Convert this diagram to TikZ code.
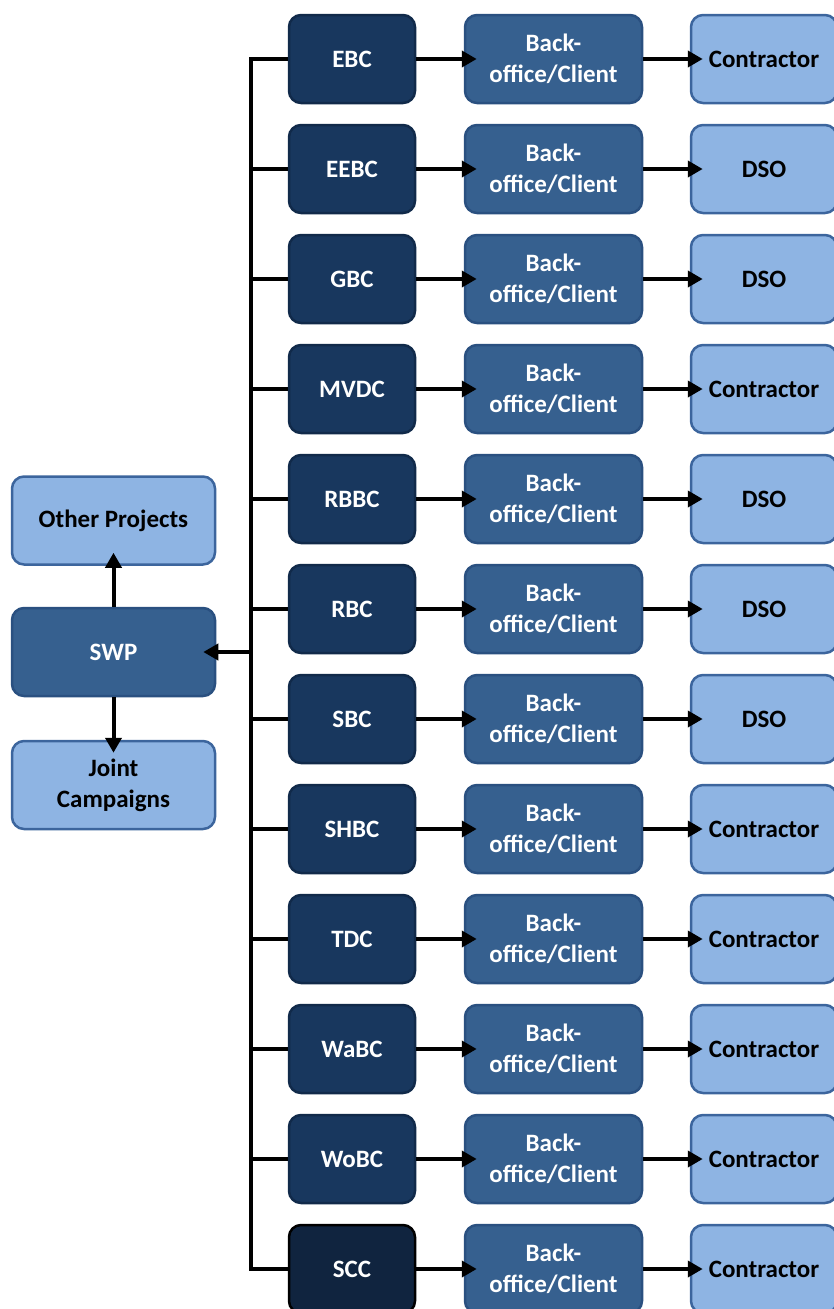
\documentclass[tikz,border=0pt]{standalone}
\usepackage{fontspec}
\setmainfont{Carlito}
\usetikzlibrary{positioning,arrows.meta}
\definecolor{navy}{HTML}{18375E}
\definecolor{navyline}{HTML}{112A4A}
\definecolor{navydeep}{HTML}{10243F}
\definecolor{steel}{HTML}{36608F}
\definecolor{steelline}{HTML}{2A5080}
\definecolor{sky}{HTML}{8EB4E3}
\definecolor{skyline}{HTML}{3C659D}

\begin{document}
\begin{tikzpicture}[
    x=1pt, y=-1pt,
    box/.style={draw, line width=2.5pt, rounded corners=12pt, minimum height=88pt, inner sep=0pt, align=center, font=\fontsize{25}{31}\selectfont\bfseries},
    org/.style={box, fill=navy, draw=navyline, text=white, minimum width=126pt},
    orglast/.style={org, fill=navydeep, draw=black},
    office/.style={box, fill=steel, draw=steelline, text=white, minimum width=177pt},
    ext/.style={box, fill=sky, draw=skyline, text=black, minimum width=146pt},
    arr/.style={-{Triangle[length=15pt,width=16pt]}, line width=4pt, shorten >=-13pt},
    lnk/.style={line width=4pt}
]
    \useasboundingbox (0,0) rectangle (834,1309);

    % --- Left block ---
    \node[box, fill=steel, draw=steelline, text=white, minimum width=203pt] (swp) at (113.5,652) {SWP};
    \node[box, fill=sky, draw=skyline, minimum width=203pt] (other) at (113.5,520.5) {Other Projects};
    \node[box, fill=sky, draw=skyline, minimum width=203pt] (joint) at (113.5,785) {Joint\\Campaigns};
    \draw[arr] (swp) -- (other);
    \draw[arr] (swp) -- (joint);

    % --- Councils ---
    \foreach \name/\ext/\sty [count=\i from 0] in {EBC/Contractor/org, EEBC/DSO/org, GBC/DSO/org, MVDC/Contractor/org, RBBC/DSO/org, RBC/DSO/org, SBC/DSO/org, SHBC/Contractor/org, TDC/Contractor/org, WaBC/Contractor/org, WoBC/Contractor/org, SCC/Contractor/orglast} {
        \node[\sty] (org\i) at (352,59+110*\i) {\name};
        \node[office] (off\i) at (553.5,59+110*\i) {Back-\\office/Client};
        \node[ext] (ext\i) at (764,59+110*\i) {\ext};
        \draw[arr] (org\i) -- (off\i);
        \draw[arr] (off\i) -- (ext\i);
    }

    % --- Trunk ---
    \coordinate (top) at (251,59);
    \coordinate (bot) at (251,1269);
    \draw[lnk] (org0.west) -- (top) -- (bot) -- (org11.west);
    \foreach \i in {1,...,10}
        \draw[lnk] (org\i.west) -- (org\i.west -| top);
    \draw[arr] (swp.east -| top) -- (swp.east);
\end{tikzpicture}
\end{document}
